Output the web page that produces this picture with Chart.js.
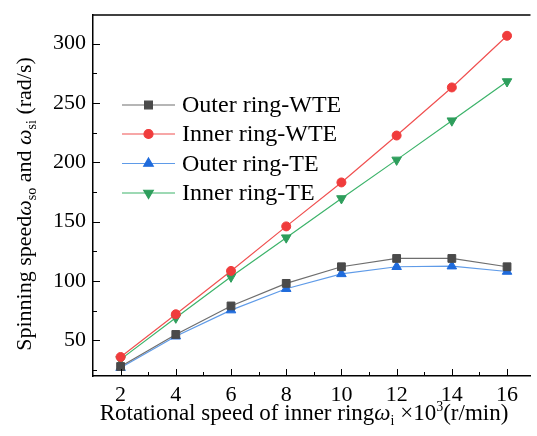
<!DOCTYPE html>
<html>
<head>
<meta charset="utf-8">
<script src="https://cdn.jsdelivr.net/npm/chart.js@4/dist/chart.umd.min.js"></script>
<style>
  html, body { margin: 0; padding: 0; background: #fff; }
  #wrap { width: 537px; height: 436px; position: relative; }
</style>
</head>
<body>
<div id="wrap"><canvas id="spin-chart"></canvas></div>
<script>
const xValues = [2, 4, 6, 8, 10, 12, 14, 16];
const outerWTE = [28, 55, 79, 98, 112, 119, 119, 112];
const innerWTE = [36, 72, 108.5, 146, 183, 222.5, 263, 306.5];
const outerTE = [27, 53.5, 75.5, 93.5, 106, 112, 112.5, 108];
const innerTE = [34, 69, 103.5, 136.5, 169.5, 202, 235, 268];
const xTicks = [2, 4, 6, 8, 10, 12, 14, 16];
const yTicks = [50, 100, 150, 200, 250, 300];

const SERIF = '"Liberation Serif", "Times New Roman", serif';

function pts(ys) {
    return xValues.map((x, i) => ({ x: x, y: ys[i] }));
}

const series = [
    { label: 'Outer ring-WTE', data: pts(outerWTE), line: '#6e6e6e', fill: '#4a4a4a', style: 'rect', radius: 5.5, rot: 0 },
    { label: 'Inner ring-WTE', data: pts(innerWTE), line: '#f05050', fill: '#f03c3c', style: 'circle', radius: 4.5, rot: 0 },
    { label: 'Outer ring-TE', data: pts(outerTE), line: '#5f9be8', fill: '#1f6bdc', style: 'triangle', radius: 5.5, rot: 0 },
    { label: 'Inner ring-TE', data: pts(innerTE), line: '#3cb36a', fill: '#2e9e5c', style: 'triangle', radius: 5.5, rot: 180 }
];

// inward tick marks, top border, legend and axis titles with sub/superscripts
const decor = {
    id: 'decor',
    afterDraw(chart) {
        const c = chart.ctx;
        const a = chart.chartArea;
        const xs = chart.scales.x, ys = chart.scales.y;
        c.save();
        c.strokeStyle = '#000';
        c.lineWidth = 1.5;
        c.beginPath();
        c.moveTo(a.left, a.top);
        c.lineTo(a.right, a.top);
        c.stroke();

        c.lineWidth = 1;
        c.beginPath();
        for (let v = 25; v < ys.max; v += 25) {
            const y = Math.round(ys.getPixelForValue(v)) + 0.5;
            const len = v % 50 === 0 ? 7 : 4;
            c.moveTo(a.left, y);
            c.lineTo(a.left + len, y);
        }
        for (let v = 2; v < xs.max; v += 1) {
            const x = Math.round(xs.getPixelForValue(v)) + 0.5;
            const len = v % 2 === 0 ? 7 : 4;
            c.moveTo(x, a.bottom);
            c.lineTo(x, a.bottom - len);
        }
        c.stroke();

        // legend
        const lx0 = 122, lx1 = 175, rowY = [105, 134, 163.5, 193];
        c.font = '24px ' + SERIF;
        c.textBaseline = 'middle';
        c.fillStyle = '#000';
        series.forEach((s, i) => {
            const y = rowY[i];
            c.strokeStyle = s.line;
            c.lineWidth = 1.2;
            c.beginPath();
            c.moveTo(lx0, y);
            c.lineTo(lx1, y);
            c.stroke();
            c.fillStyle = s.fill;
            c.strokeStyle = s.fill;
            Chart.helpers.drawPoint(c, { pointStyle: s.style, radius: s.radius, rotation: s.rot, borderWidth: 1 }, (lx0 + lx1) / 2, y);
            c.fillStyle = '#000';
            c.fillText(s.label, 182, y + 1);
        });

        // axis titles
        drawRich(c, [
            { t: 'Rotational speed of inner ring', f: '23px ' + SERIF },
            { t: 'ω', f: 'italic 23px ' + SERIF },
            { t: 'i', f: '14px ' + SERIF, dy: 5 },
            { t: ' ×10', f: '23px ' + SERIF },
            { t: '3', f: '14px ' + SERIF, dy: -9 },
            { t: '(r/min)', f: '23px ' + SERIF }
        ], 304, 420, 0);

        drawRich(c, [
            { t: 'Spinning speed', f: '22px ' + SERIF },
            { t: 'ω', f: 'italic 22px ' + SERIF },
            { t: 'so', f: '14px ' + SERIF, dy: 5 },
            { t: ' and ', f: '22px ' + SERIF },
            { t: 'ω', f: 'italic 22px ' + SERIF },
            { t: 'si', f: '14px ' + SERIF, dy: 5 },
            { t: ' (rad/s)', f: '22px ' + SERIF }
        ], 31, 204, -Math.PI / 2);
        c.restore();
    }
};

function drawRich(c, parts, cx, cy, rot) {
    c.save();
    c.translate(cx, cy);
    c.rotate(rot);
    c.textBaseline = 'alphabetic';
    c.fillStyle = '#000';
    let total = 0;
    parts.forEach(p => { c.font = p.f; p.w = c.measureText(p.t).width; total += p.w; });
    let x = -total / 2;
    parts.forEach(p => {
        c.font = p.f;
        c.fillText(p.t, x, p.dy || 0);
        x += p.w;
    });
    c.restore();
}

new Chart(document.getElementById('spin-chart'), {
    type: 'line',
    data: {
        datasets: series.map(s => ({
            label: s.label,
            data: s.data,
            borderColor: s.line,
            backgroundColor: s.fill,
            borderWidth: 1.2,
            pointStyle: s.style,
            pointRadius: s.radius,
            pointRotation: s.rot,
            pointBackgroundColor: s.fill,
            pointBorderColor: s.fill,
            pointBorderWidth: 1,
            tension: 0,
            clip: false
        }))
    },
    options: {
        responsive: true,
        maintainAspectRatio: false,
        animation: false,
        layout: { padding: { top: 15, left: 0, right: 0, bottom: 0 } },
        plugins: {
            legend: { display: false },
            tooltip: { enabled: false }
        },
        scales: {
            x: {
                type: 'linear',
                min: 1,
                max: 16.85,
                afterBuildTicks: (scale) => { scale.ticks = xTicks.map(v => ({ value: v })); },
                afterFit: (scale) => {
                    scale.height = 60;
                    scale.paddingLeft = 0;
                    scale.paddingRight = 0;
                },
                grid: { display: false, drawTicks: false },
                border: { display: true, color: '#000', width: 1.5 },
                ticks: {
                    padding: 6,
                    color: '#000',
                    font: { family: SERIF, size: 22 },
                    maxRotation: 0
                }
            },
            y: {
                min: 20,
                max: 324,
                afterBuildTicks: (scale) => { scale.ticks = yTicks.map(v => ({ value: v })); },
                afterFit: (scale) => {
                    scale.width = 93;
                    scale.paddingTop = 0;
                    scale.paddingBottom = 0;
                },
                grid: { display: false, drawTicks: false },
                border: { display: true, color: '#000', width: 1.5 },
                ticks: {
                    padding: 7,
                    color: '#000',
                    font: { family: SERIF, size: 22 }
                }
            }
        }
    },
    plugins: [decor]
});
</script>
</body>
</html>
